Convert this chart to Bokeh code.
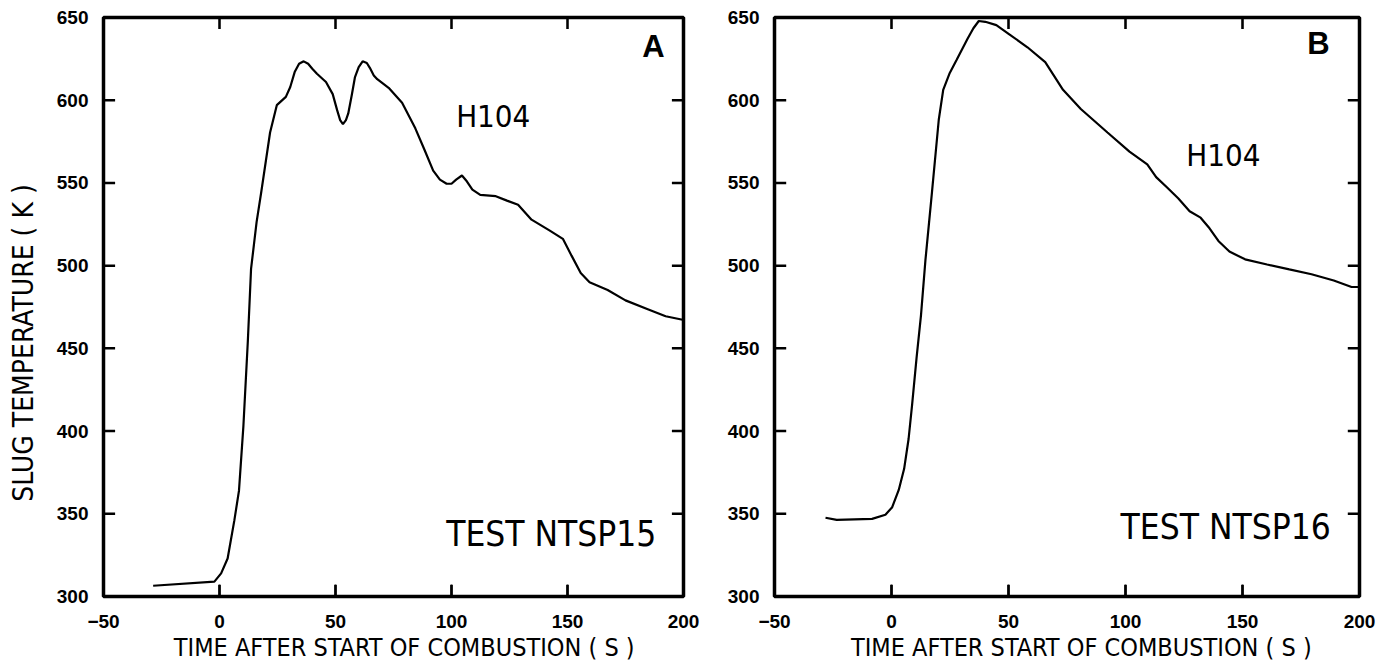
from bokeh.plotting import figure
from bokeh.layouts import row
from bokeh.models import Range1d, FixedTicker
from bokeh.core.properties import value
from bokeh.embed import file_html
from bokeh.resources import INLINE

# ---- data ----
time_a = [-28.6, -2.2, 0.7, 3.5, 6.4, 8.4, 10.3, 12.2, 13.6, 16.0, 18.0, 21.8, 24.7, 28.6,
          30.5, 32.4, 34.3, 36.3, 38.2, 40.0, 42.0, 45.9, 48.8, 50.7, 52.0, 53.2, 54.5, 55.5,
          57.0, 58.4, 60.0, 61.7, 63.5, 64.8, 66.5, 68.0, 72.9, 78.7, 84.4, 88.3, 92.1, 95.0,
          97.9, 100.0, 102.0, 104.5, 106.6, 109.0, 112.4, 119.1, 123.9, 128.7, 134.5, 142.2,
          148.0, 151.8, 155.7, 159.5, 167.3, 175.0, 184.6, 192.3, 199.6]
temp_a = [306.5, 309, 314, 323, 346, 364, 403, 454, 498, 526.5, 544.5, 580.5, 597, 602,
          608, 617, 622, 623.5, 622, 619, 616, 611, 603.7, 594, 588, 585.5, 588, 592,
          603, 614, 620, 623.5, 622.5, 619.6, 615, 612.7, 607.5, 598.5, 583, 570.2, 557.4, 552,
          549.5, 549.5, 552, 554.5, 551, 546, 542.8, 542, 539.3, 536.8, 527.8, 521.3,
          516.2, 505.9, 495.6, 490, 485.3, 479, 473.7, 469.4, 467.3]

time_b = [-28.2, -23.4, -8.3, -2.6, 0.3, 3.1, 5.4, 7.3, 8.8, 10.7, 12.6, 14.5, 17.3, 20.2,
          22.1, 24.9, 27.8, 32.5, 35.0, 37.3, 40.1, 44.8, 50.5, 58.1, 65.7, 73.3, 80.9, 92.3,
          101.7, 109.3, 113.1, 117.9, 122.6, 127.4, 132.1, 135.9, 139.7, 144.4, 151.1,
          160.5, 170.0, 179.5, 189.0, 196.6, 199.4]
temp_b = [347.6, 346.3, 346.9, 349.4, 354, 364.4, 377.2, 395.2, 415.8, 444.1, 469.9, 503.3,
          544.5, 588.2, 606.3, 616.5, 624.3, 637.1, 643.5, 647.9, 647.4, 645.4, 639.7, 632, 623,
          606.3, 594.7, 580.5, 568.9, 561.2, 553.5, 547.1, 540.6, 532.9, 529, 522.6, 514.9,
          508.5, 503.8, 500.7, 497.7, 494.8, 491, 487.1, 487.1]

x_ticks = [-50, 0, 50, 100, 150, 200]
y_ticks = [300, 350, 400, 450, 500, 550, 600, 650]

x_title = "TIME AFTER START OF COMBUSTION ( S )"
y_title = "SLUG TEMPERATURE ( K )"

X0, X1 = -50, 200
Y0, Y1 = 300, 650

NARROW = "DejaVu Sans Condensed, Liberation Sans Narrow, sans-serif"
SANS = "Liberation Sans, Arial, sans-serif"
NBSP = "\u00a0"


def make_panel(tx, ty, panel_letter, sensor, test, width, border_left, border_right,
               letter_pos, sensor_pos, test_pos, xpad, ypad, show_ylabel):
    p = figure(width=width, height=668, output_backend="svg", toolbar_location=None,
               x_range=Range1d(X0, X1), y_range=Range1d(Y0, Y1),
               min_border_left=border_left, min_border_right=border_right,
               min_border_top=17, min_border_bottom=72)
    p.background_fill_color = "white"
    p.border_fill_color = "white"
    p.outline_line_color = "black"
    p.outline_line_width = 3.5
    p.xgrid.visible = False
    p.ygrid.visible = False

    # the data curve
    p.line(tx, ty, line_color="black", line_width=2.2)

    for ax, ticks in ((p.xaxis[0], x_ticks), (p.yaxis[0], y_ticks)):
        ax.ticker = FixedTicker(ticks=ticks)
        ax.minor_tick_line_color = None
        ax.major_tick_out = 0
        ax.axis_line_color = None
        ax.major_label_text_font = SANS
        ax.major_label_text_font_style = "bold"
        ax.major_label_text_font_size = "19px"
        ax.major_label_text_color = "black"
        ax.axis_label_text_font = NARROW
        ax.axis_label_text_font_style = "normal"
        ax.axis_label_text_color = "black"
    p.yaxis[0].major_tick_in = 0
    p.yaxis[0].major_tick_line_color = None
    p.xaxis[0].major_tick_in = 12
    p.xaxis[0].major_tick_line_width = 2
    p.xaxis[0].major_tick_line_color = "black"

    # titles are off-centre in the reference: padded with no-break spaces
    p.xaxis[0].axis_label = NBSP * xpad + x_title
    p.xaxis[0].axis_label_text_font_size = "25px"
    p.xaxis[0].major_label_standoff = 18
    p.xaxis[0].axis_label_standoff = 2
    p.yaxis[0].major_label_standoff = 15
    if show_ylabel:
        p.yaxis[0].axis_label = y_title + NBSP * ypad
        p.yaxis[0].axis_label_text_font_size = "28px"
        p.yaxis[0].axis_label_standoff = 14

    # inward tick marks on all four sides, placed from the tick lists
    yt_len = 5.0    # time units (~12 px)
    yt_h = 1.5      # temperature units (~2.5 px)
    xt_len = 7.0    # temperature units (~12 px)
    xt_w = 1.1      # time units (~2.5 px)
    n_x, n_y = len(x_ticks), len(y_ticks)
    p.hbar(y=y_ticks, height=yt_h, left=[X0] * n_y, right=[X0 + yt_len] * n_y,
           fill_color="black", line_color=None)
    p.hbar(y=y_ticks, height=yt_h, left=[X1 - yt_len] * n_y, right=[X1] * n_y,
           fill_color="black", line_color=None)
    p.quad(left=[t - xt_w / 2 for t in x_ticks], right=[t + xt_w / 2 for t in x_ticks],
           bottom=[Y0] * n_x, top=[Y0 + xt_len] * n_x,
           fill_color="black", line_color=None)
    p.quad(left=[t - xt_w / 2 for t in x_ticks], right=[t + xt_w / 2 for t in x_ticks],
           bottom=[Y1 - xt_len] * n_x, top=[Y1] * n_x,
           fill_color="black", line_color=None)

    p.text(x=[letter_pos[0]], y=[letter_pos[1]], text=[panel_letter],
           text_font=value(SANS), text_font_style="bold", text_font_size="31px",
           text_align="center", text_baseline="middle", text_color="black")
    p.text(x=[sensor_pos[0]], y=[sensor_pos[1]], text=[sensor],
           text_font=value(NARROW), text_font_size="31px",
           text_align="left", text_baseline="middle", text_color="black")
    p.text(x=[test_pos[0]], y=[test_pos[1]], text=[test],
           text_font=value(NARROW), text_font_size="35px",
           text_align="left", text_baseline="middle", text_color="black")
    return p


pa = make_panel(time_a, temp_a, "A", "H104", "TEST NTSP15", width=700,
                border_left=103, border_right=17,
                letter_pos=(187, 632.5), sensor_pos=(102, 590.4), test_pos=(97.7, 337.7),
                xpad=3, ypad=9, show_ylabel=True)
pb = make_panel(time_b, temp_b, "B", "H104", "TEST NTSP16", width=684,
                border_left=74, border_right=25,
                letter_pos=(182.5, 634.3), sensor_pos=(126, 566.6), test_pos=(97.9, 342),
                xpad=4, ypad=0, show_ylabel=False)

layout = row(pa, pb)
open("out.html", "w").write(file_html(layout, INLINE))
